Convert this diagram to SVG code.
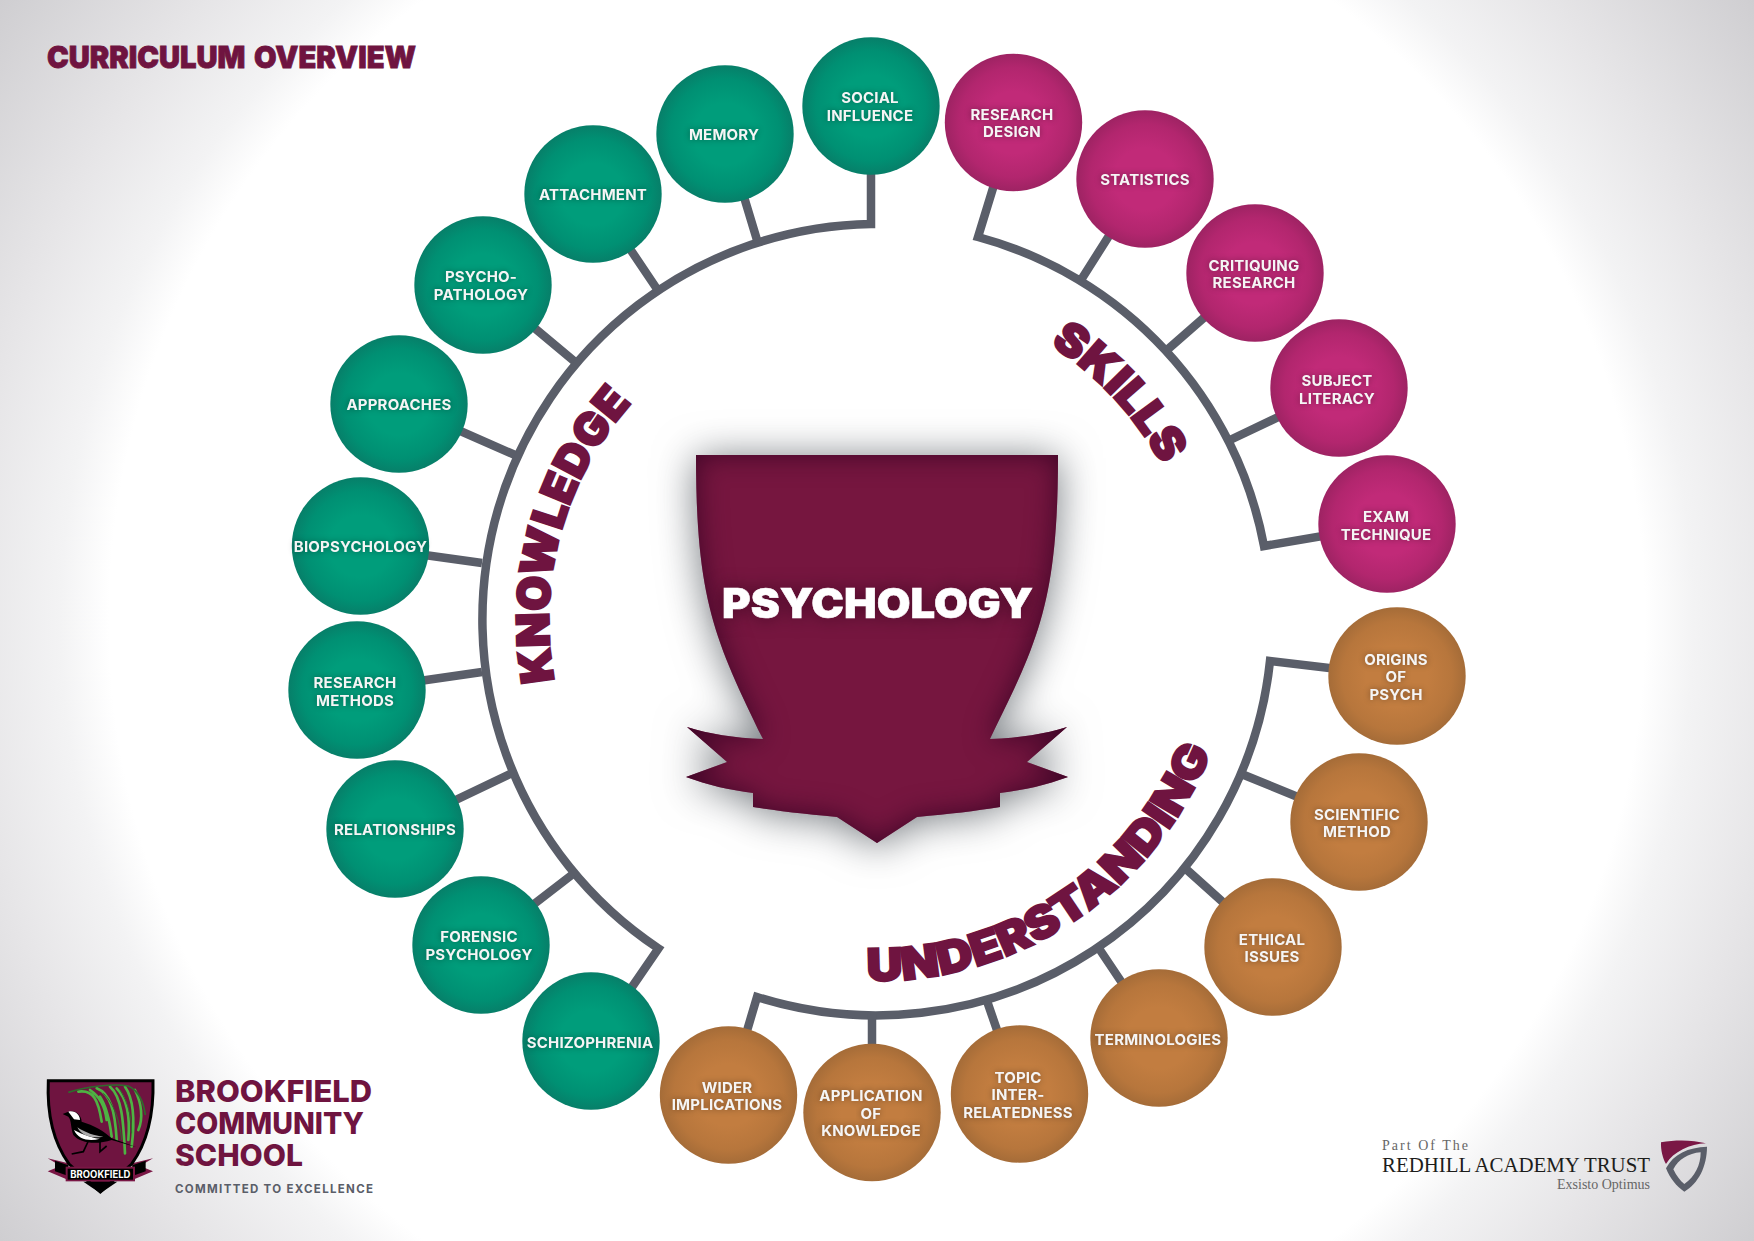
<svg xmlns="http://www.w3.org/2000/svg" width="1754" height="1241" viewBox="0 0 1754 1241">
<style>
text{font-family:"Inter","Liberation Sans",sans-serif}
.n text{font-size:15px;font-weight:700;letter-spacing:.2px;fill:#f5f5f5;text-anchor:middle;filter:url(#ts)}
.k circle{fill:url(#gk)}.s circle{fill:url(#gs)}.u circle{fill:url(#gu)}
.st{fill:none;stroke:#5a5e69;stroke-width:8.5;stroke-miterlimit:10}
.band{font-size:45px;font-weight:900;fill:#6f1440;stroke:#6f1440;stroke-width:2}
.brand{font-size:30px;font-weight:800;fill:#6f1440}
.serif{font-family:"Liberation Serif",serif}
</style>
<defs>
<radialGradient id="bg" gradientUnits="userSpaceOnUse" cx="877" cy="620" r="1074">
<stop offset="0.715" stop-color="#fff"/><stop offset="0.76" stop-color="#f3f3f4"/><stop offset="0.85" stop-color="#e6e5e7"/><stop offset="1" stop-color="#cfced1"/>
</radialGradient>
<radialGradient id="gk"><stop offset="0.45" stop-color="#009d7b"/><stop offset="0.8" stop-color="#009073"/><stop offset="1" stop-color="#077f69"/></radialGradient>
<radialGradient id="gs"><stop offset="0.45" stop-color="#c12a78"/><stop offset="0.8" stop-color="#b2266e"/><stop offset="1" stop-color="#9e2363"/></radialGradient>
<radialGradient id="gu"><stop offset="0.45" stop-color="#c27d40"/><stop offset="0.8" stop-color="#b7763c"/><stop offset="1" stop-color="#a56c38"/></radialGradient>
<filter id="ts" x="-20%" y="-60%" width="140%" height="220%" color-interpolation-filters="sRGB"><feDropShadow dx="0" dy="0" stdDeviation="3" flood-color="#000" flood-opacity="0.4"/></filter>
<filter id="sh" x="-25%" y="-25%" width="150%" height="150%" color-interpolation-filters="sRGB">
<feGaussianBlur in="SourceAlpha" stdDeviation="20" result="b"/><feOffset in="b" dy="3" result="o"/>
<feFlood flood-color="#50565c" flood-opacity="0.8"/><feComposite in2="o" operator="in" result="d"/>
<feComposite in="SourceAlpha" in2="SourceAlpha" operator="arithmetic" k1="0" k2="-1" k3="0" k4="1" result="inv"/>
<feGaussianBlur in="inv" stdDeviation="14" result="ib"/>
<feFlood flood-color="#3e0527" flood-opacity="1"/><feComposite in2="ib" operator="in" result="ic"/><feComposite in="ic" in2="SourceAlpha" operator="in" result="inner"/>
<feMerge><feMergeNode in="d"/><feMergeNode in="SourceGraphic"/><feMergeNode in="inner"/></feMerge>
</filter>
<filter id="ps" x="-20%" y="-80%" width="140%" height="260%" color-interpolation-filters="sRGB"><feDropShadow dx="0" dy="0" stdDeviation="9" flood-color="#3e0622" flood-opacity="0.85"/></filter>
<path id="pk2" d="M568.7 731.5A326 326 0 0 1 875 294"/>
<path id="psk" d="M875 294A326 326 0 0 1 1201 620"/>
<path id="pu" d="M514 620A361 361 0 0 0 1236 620"/>
</defs>
<rect id="background" width="1754" height="1241" fill="url(#bg)"/>

<text id="title" x="47" y="68" font-size="30" font-weight="900" word-spacing="3" fill="#6f1440" stroke="#6f1440" stroke-width="0.8" textLength="369" lengthAdjust="spacingAndGlyphs">CURRICULUM OVERVIEW</text>

<g id="connectors" class="st">
<path d="M632 987L658.5 948.5A395.5 395.5 0 0 1 871 224V150"/>
<path d="M1013 123L978 237A396 396 0 0 1 1264 546L1387 525"/>
<path d="M1397 676L1270 661A396 396 0 0 1 757 997L728 1095"/>
<path d="M725 134L757 240M593 194L657 289M483 285L574 361M399 404L515 455M360 546L482 563M357 690L482 672M395 829L510 774M481 945L573 874"/>
<path d="M1145 179L1081 280M1255 273L1167 350M1339 388L1230 440"/>
<path d="M1359 822L1244 775M1273 947L1186 869M1159 1038L1098 947M1019 1094L987 1001M872 1112V1014"/>
</g>

<g id="band-labels">
<text class="band"><textPath href="#pk2" startOffset="8.4%" textLength="299" lengthAdjust="spacingAndGlyphs">KNOWLEDGE</textPath></text>
<text class="band"><textPath href="#psk" startOffset="36%" textLength="166" lengthAdjust="spacingAndGlyphs">SKILLS</textPath></text>
<text class="band"><textPath href="#pu" startOffset="49.3%" textLength="440" lengthAdjust="spacingAndGlyphs">UNDERSTANDING</textPath></text>
</g>

<g id="knowledge" class="n k">
<g id="social-influence"><circle cx="871" cy="106" r="68.7"/><text x="870" y="103">SOCIAL</text><text x="870" y="121">INFLUENCE</text></g>
<g id="memory"><circle cx="725" cy="134" r="68.7"/><text x="724" y="140">MEMORY</text></g>
<g id="attachment"><circle cx="593" cy="194" r="68.7"/><text x="593" y="200">ATTACHMENT</text></g>
<g id="psychopathology"><circle cx="483" cy="285" r="68.7"/><text x="481" y="282">PSYCHO-</text><text x="481" y="300">PATHOLOGY</text></g>
<g id="approaches"><circle cx="399" cy="404" r="68.7"/><text x="399" y="410">APPROACHES</text></g>
<g id="biopsychology"><circle cx="360.5" cy="546" r="68.7"/><text x="360.5" y="552">BIOPSYCHOLOGY</text></g>
<g id="research-methods"><circle cx="357" cy="690" r="68.7"/><text x="355" y="688">RESEARCH</text><text x="355" y="706">METHODS</text></g>
<g id="relationships"><circle cx="395" cy="829" r="68.7"/><text x="395" y="835">RELATIONSHIPS</text></g>
<g id="forensic-psychology"><circle cx="481" cy="945" r="68.7"/><text x="479" y="942">FORENSIC</text><text x="479" y="960">PSYCHOLOGY</text></g>
<g id="schizophrenia"><circle cx="591" cy="1041" r="68.7"/><text x="590" y="1048">SCHIZOPHRENIA</text></g>
</g>

<g id="skills" class="n s">
<g id="research-design"><circle cx="1013.5" cy="122.5" r="68.7"/><text x="1012" y="120">RESEARCH</text><text x="1012" y="137">DESIGN</text></g>
<g id="statistics"><circle cx="1145" cy="179" r="68.7"/><text x="1145" y="185">STATISTICS</text></g>
<g id="critiquing-research"><circle cx="1255" cy="273" r="68.7"/><text x="1254" y="271">CRITIQUING</text><text x="1254" y="288">RESEARCH</text></g>
<g id="subject-literacy"><circle cx="1339" cy="388" r="68.7"/><text x="1337" y="386">SUBJECT</text><text x="1337" y="404">LITERACY</text></g>
<g id="exam-technique"><circle cx="1387" cy="524" r="68.7"/><text x="1386" y="522">EXAM</text><text x="1386" y="540">TECHNIQUE</text></g>
</g>

<g id="understanding" class="n u">
<g id="origins-of-psych"><circle cx="1397" cy="676" r="68.7"/><text x="1396" y="665">ORIGINS</text><text x="1396" y="682">OF</text><text x="1396" y="700">PSYCH</text></g>
<g id="scientific-method"><circle cx="1359" cy="822" r="68.7"/><text x="1357" y="820">SCIENTIFIC</text><text x="1357" y="837">METHOD</text></g>
<g id="ethical-issues"><circle cx="1273" cy="947" r="68.7"/><text x="1272" y="945">ETHICAL</text><text x="1272" y="962">ISSUES</text></g>
<g id="terminologies"><circle cx="1159" cy="1038" r="68.7"/><text x="1158" y="1045">TERMINOLOGIES</text></g>
<g id="topic-interrelatedness"><circle cx="1019.5" cy="1094" r="68.7"/><text x="1018" y="1083">TOPIC</text><text x="1018" y="1100">INTER-</text><text x="1018" y="1118">RELATEDNESS</text></g>
<g id="application-of-knowledge"><circle cx="872" cy="1112.5" r="68.7"/><text x="871" y="1101">APPLICATION</text><text x="871" y="1119">OF</text><text x="871" y="1136">KNOWLEDGE</text></g>
<g id="wider-implications"><circle cx="728.5" cy="1095" r="68.7"/><text x="727" y="1093">WIDER</text><text x="727" y="1110">IMPLICATIONS</text></g>
</g>

<g id="psychology">
<path filter="url(#sh)" fill="#76163f" d="M696 455H1058C1058 600 1039 640 990 739C1020 738 1045 734 1067 727L1027 762L1068 777C1046 785 1025 790 1000 793V807C975 811 950 814 917 817L877 843L837 817C804 814 779 811 753 807V793C729 790 708 785 686 777L727 762L687 727C709 734 734 738 763 739C715 640 696 600 696 455Z"/>
<text x="722" y="618" font-size="41" font-weight="900" fill="#fff" stroke="#fff" stroke-width="0.6" textLength="311" lengthAdjust="spacingAndGlyphs" filter="url(#ps)">PSYCHOLOGY</text>
</g>

<g id="brookfield">
<g transform="translate(0 1040) scale(0.33333)">
<path d="M143 355L205 370V420L143 394L182 378ZM459 355L397 370V420L459 394L420 378Z" fill="#7a1745"/>
<path d="M145 122H459C462 230 440 310 395 372L301 456L207 372C162 310 140 230 145 122Z" fill="#6f1440" stroke="#000" stroke-width="9"/>
<path d="M165 362L205 376V408L165 394ZM437 362L397 376V408L437 394Z" fill="#000"/>
<rect x="197" y="380" width="208" height="44" fill="#7a1745"/><rect x="203" y="386" width="196" height="33" fill="#000"/>
<path d="M250 425H352L301 460Z" fill="#000"/>
<path d="M235 155C280 148 295 180 305 245M290 145C330 160 345 210 350 300M330 140C365 170 370 240 375 340M375 140C400 175 405 240 395 320M405 150C425 190 430 235 415 270M300 170C320 200 330 250 335 290M270 150C300 170 315 200 320 240M350 145C385 180 390 240 385 300" fill="none" stroke="#4eb343" stroke-width="8" stroke-linecap="round"/>
<path d="M205 157C260 140 340 130 385 138C410 150 430 180 436 225" fill="none" stroke="#2f6b2c" stroke-width="5"/>
<path d="M310 160C340 190 360 240 365 300M360 150C385 190 395 230 395 280" fill="none" stroke="#2f6b2c" stroke-width="3"/>
<path d="M188 222L205 215C225 208 245 225 245 245C280 255 315 275 335 295L410 322L335 300C290 315 240 310 220 285C212 265 215 240 205 230Z" fill="#000"/>
<path d="M205 215C225 210 240 225 240 240L222 238ZM222 270C250 285 280 295 300 296C270 305 235 300 222 270Z" fill="#fff"/>
<path d="M232 262C255 278 285 288 310 290C280 296 245 290 232 262Z" fill="#aaa"/>
<path d="M265 303L250 335L215 342M300 305L300 335L320 318" fill="none" stroke="#000" stroke-width="5"/>
<text x="301" y="415" font-size="29" font-weight="700" fill="#fff" text-anchor="middle" textLength="180" lengthAdjust="spacingAndGlyphs">BROOKFIELD</text>
</g>
<text class="brand" x="175" y="1102" textLength="197" lengthAdjust="spacingAndGlyphs">BROOKFIELD</text>
<text class="brand" x="175" y="1134" textLength="189" lengthAdjust="spacingAndGlyphs">COMMUNITY</text>
<text class="brand" x="175" y="1166" textLength="128" lengthAdjust="spacingAndGlyphs">SCHOOL</text>
<text x="175" y="1193" font-size="11.5" font-weight="700" fill="#5a5e69" textLength="198">COMMITTED TO EXCELLENCE</text>
</g>

<g id="redhill">
<text class="serif" x="1382" y="1150" font-size="14" fill="#666" textLength="86">Part Of The</text>
<text class="serif" x="1382" y="1172" font-size="21" fill="#1d1d1b" textLength="268" lengthAdjust="spacingAndGlyphs">REDHILL ACADEMY TRUST</text>
<text class="serif" x="1650" y="1189" font-size="14" fill="#666" text-anchor="end">Exsisto Optimus</text>
<g transform="translate(1340 1110) scale(0.33333)">
<path d="M963 97C1010 88 1060 90 1098 100C1050 102 1000 125 978 162C968 145 962 120 963 97Z" fill="#7a1745"/>
<path fill-rule="evenodd" fill="#5a5e69" d="M1101 110C1045 112 1000 132 978 175C990 205 1010 230 1033 245C1075 220 1101 170 1101 110ZM1082 127C1045 130 1015 148 1000 178C1010 198 1020 212 1033 222C1065 200 1082 165 1082 127Z"/>
</g>
</g>
</svg>
